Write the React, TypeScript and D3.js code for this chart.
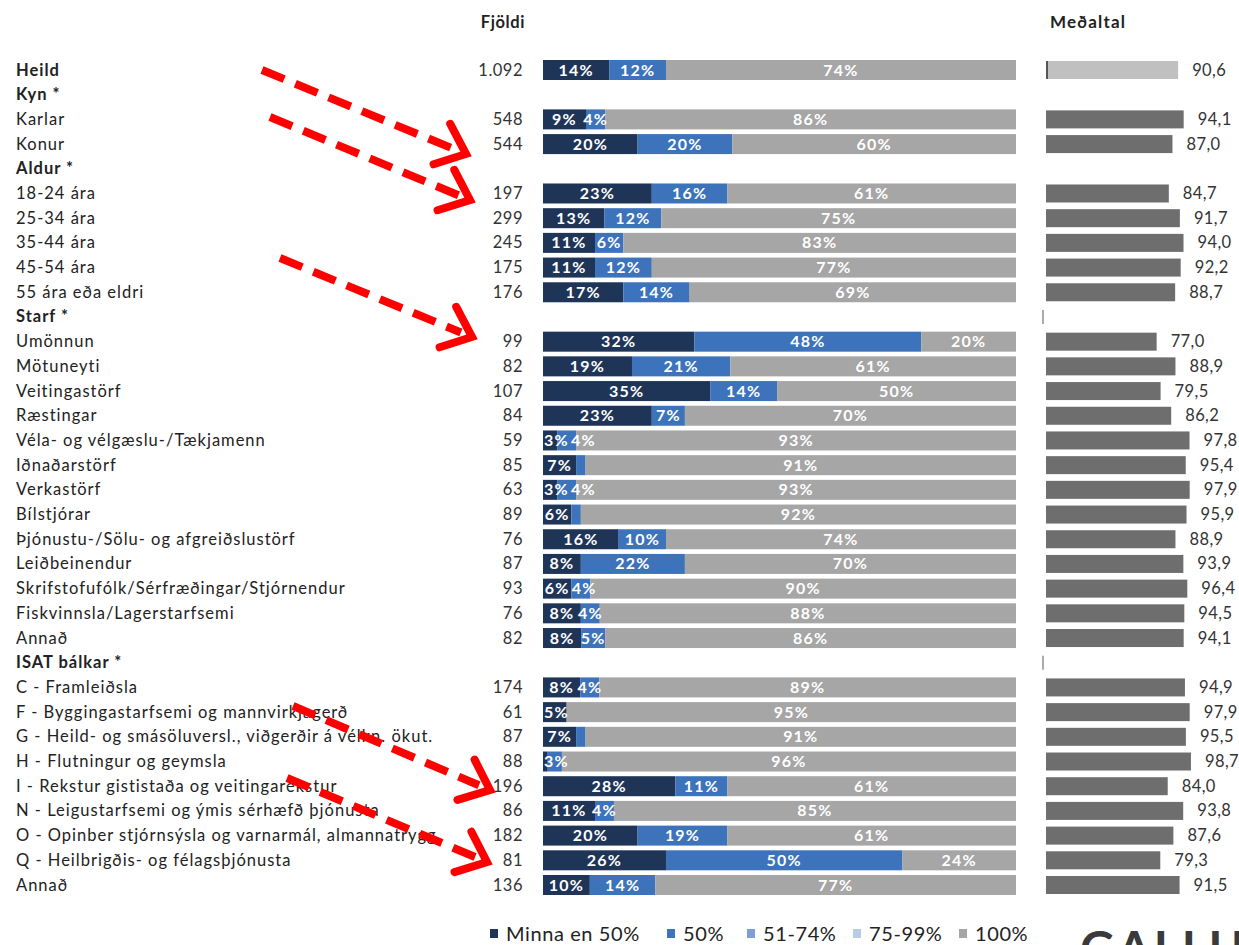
import React from "react";
import * as d3 from "d3";

const labels = [
  "Heild", "Kyn *", "Karlar", "Konur", "Aldur *", "18-24 ára", "25-34 ára", "35-44 ára", "45-54 ára", "55 ára eða eldri",
  "Starf *", "Umönnun", "Mötuneyti", "Veitingastörf", "Ræstingar", "Véla- og vélgæslu-/Tækjamenn", "Iðnaðarstörf",
  "Verkastörf", "Bílstjórar", "Þjónustu-/Sölu- og afgreiðslustörf", "Leiðbeinendur", "Skrifstofufólk/Sérfræðingar/Stjórnendur",
  "Fiskvinnsla/Lagerstarfsemi", "Annað", "ISAT bálkar *", "C - Framleiðsla", "F - Byggingastarfsemi og mannvirkjagerð",
  "G - Heild- og smásöluversl., viðgerðir á vélkn. ökut.", "H - Flutningur og geymsla", "I - Rekstur gististaða og veitingarekstur",
  "N - Leigustarfsemi og ýmis sérhæfð þjónusta", "O - Opinber stjórnsýsla og varnarmál, almannatrygg.",
  "Q - Heilbrigðis- og félagsþjónusta", "Annað",
];
const boldRows = ["Heild", "Kyn *", "Aldur *", "Starf *", "ISAT bálkar *"];
const fjoldi = ["1.092", "", "548", "544", "", "197", "299", "245", "175", "176",
  "", "99", "82", "107", "84", "59", "85", "63", "89", "76", "87", "93", "76", "82",
  "", "174", "61", "87", "88", "196", "86", "182", "81", "136"];
const minna50 = [14, null, 9, 20, null, 23, 13, 11, 11, 17, null, 32, 19, 35, 23, 3, 7, 3, 6, 16, 8, 6, 8, 8, null, 8, 5, 7, 1, 28, 11, 20, 26, 10];
const jafnt50 = [12, null, 4, 20, null, 16, 12, 6, 12, 14, null, 48, 21, 14, 7, 4, 2, 4, 2, 10, 22, 4, 4, 5, null, 4, 0, 2, 3, 11, 4, 19, 50, 14];
const hundrad = [74, null, 86, 60, null, 61, 75, 83, 77, 69, null, 20, 61, 50, 70, 93, 91, 93, 92, 74, 70, 90, 88, 86, null, 89, 95, 91, 96, 61, 85, 61, 24, 77];
const medaltal = [90.6, null, 94.1, 87.0, null, 84.7, 91.7, 94.0, 92.2, 88.7, null, 77.0, 88.9, 79.5, 86.2, 97.8, 95.4, 97.9, 95.9, 88.9, 93.9, 96.4, 94.5, 94.1, null, 94.9, 97.9, 95.5, 98.7, 84.0, 93.8, 87.6, 79.3, 91.5];
const legendItems = ["Minna en 50%", "50%", "51-74%", "75-99%", "100%"];
const legendColors = ["#1f3558", "#3c73ba", "#7b9fd6", "#b9cce6", "#a6a6a6"];
const segColors = ["#1f3558", "#3c73ba", "#a6a6a6"];
const axisTickRows = ["Starf *", "ISAT bálkar *"];

const arrows = [
  [262, 70, 466, 154],
  [270, 117, 470, 200],
  [280, 258, 472, 337],
  [293, 706, 490, 790],
  [287, 778, 487, 862],
];

const FONT = "Lato, 'Open Sans', sans-serif";

export default function App() {
  const y = d3.scalePoint<number>().domain(d3.range(labels.length)).range([70, 885]);
  const x = d3.scaleLinear().domain([0, 1]).range([543, 1016]);
  const xm = d3.scaleLinear().domain([7, 100]).range([1046, 1193]);
  const barH = 20;
  const fmt = (v: number) => v.toFixed(1).replace(".", ",");

  const rows = labels.map((lab, i) => {
    const vals = [minna50[i], jafnt50[i], hundrad[i]];
    const has = vals[0] !== null;
    const total = has ? d3.sum(vals as number[]) : 1;
    let acc = 0;
    const segs = has
      ? (vals as number[]).map((v, k) => {
          const s = { x0: acc / total, x1: (acc + v) / total, v, k };
          acc += v;
          return s;
        })
      : [];
    // label placement: centred, but pushed right to avoid overlapping
    let prevEnd = x(0) - 1;
    const labs = segs.filter((s) => s.v >= 3).map((s) => {
      const w = String(s.v).length * 10 + 15;
      let cx = (x(s.x0) + x(s.x1)) / 2;
      cx = Math.max(cx, prevEnd + w / 2 + 2);
      prevEnd = cx + w / 2;
      return { cx, v: s.v, k: s.k };
    });
    return { lab, i, segs, has, labs };
  });

  const arrowHead = (a: number[]) => {
    const [x0, y0, x1, y1] = a;
    const ang = Math.atan2(y1 - y0, x1 - x0) + Math.PI;
    const L = 34;
    const sp = (40 * Math.PI) / 180;
    const p1 = [x1 + L * Math.cos(ang + sp), y1 + L * Math.sin(ang + sp)];
    const p2 = [x1 + L * Math.cos(ang - sp), y1 + L * Math.sin(ang - sp)];
    return `M${p1[0]},${p1[1]}L${x1},${y1}L${p2[0]},${p2[1]}`;
  };

  return (
    <div style={{ position: "absolute", left: 0, top: 0 }}>
      <svg width={1239} height={945} style={{ display: "block", background: "#fff" }} fontFamily={FONT}>
        <text x={525} y={28} textAnchor="end" fontWeight={700} fontSize={16.5} letterSpacing={0.6} fill="#222">Fjöldi</text>
        <text x={1050} y={28} fontWeight={700} fontSize={17} letterSpacing={1.2} fill="#222">Meðaltal</text>

        {rows.map((r) => {
          const cy = y(r.i) as number;
          const bold = boldRows.includes(r.lab);
          return (
            <g key={r.i}>
              <text x={16} y={cy + 5.5} fontSize={16.5} letterSpacing={1} fontWeight={bold ? 700 : 400} fill="#222">{r.lab}</text>
              {fjoldi[r.i] && (
                <text x={523} y={cy + 5.5} fontSize={16.5} letterSpacing={0.5} textAnchor="end" fill="#333">{fjoldi[r.i]}</text>
              )}
              {r.segs.map((s) => (
                <rect key={s.k} x={x(s.x0)} y={cy - barH / 2} width={Math.max(0, x(s.x1) - x(s.x0))} height={barH} fill={segColors[s.k]} />
              ))}
              {r.labs.map((l) => (
                <text key={"t" + l.k} x={l.cx} y={cy + 5.5} textAnchor="middle" fontSize={16} letterSpacing={1.2} fontWeight={700} fill="#fff">
                  {l.v}%
                </text>
              ))}
              {medaltal[r.i] !== null && (
                <g>
                  <rect x={xm(7)} y={cy - barH / 2 + 1} width={xm(medaltal[r.i] as number) - xm(7)} height={barH - 2}
                    fill={r.i === 0 ? "#c0c0c0" : "#6e6e6e"} />
                  {r.i === 0 && <rect x={xm(7)} y={cy - barH / 2 + 1} width={2} height={barH - 2} fill="#555" />}
                  <text x={xm(medaltal[r.i] as number) + 14} y={cy + 5.5} fontSize={16.5} letterSpacing={0.4} fill="#333">{fmt(medaltal[r.i] as number)}</text>
                </g>
              )}
              {axisTickRows.includes(r.lab) && (
                <rect x={1042} y={cy - 7} width={2} height={14} fill="#aaa" />
              )}
            </g>
          );
        })}

        {arrows.map((a, k) => {
          const ang = Math.atan2(a[3] - a[1], a[2] - a[0]);
          return (
            <g key={"a" + k} stroke="#ff0000" fill="none" strokeWidth={8}>
              <line x1={a[0]} y1={a[1]} x2={a[2] - 12 * Math.cos(ang)} y2={a[3] - 12 * Math.sin(ang)} strokeDasharray="24 12" />
              <path d={arrowHead(a)} strokeLinecap="round" strokeLinejoin="miter" />
            </g>
          );
        })}

        {(() => {
          const starts = [490, 667, 747, 853, 959];
          return legendItems.map((t, k) => (
            <g key={"l" + k}>
              <rect x={starts[k]} y={929} width={8} height={9} fill={legendColors[k]} />
              <text x={starts[k] + 16} y={941} fontSize={20} letterSpacing={0.6} fill="#222">{t}</text>
            </g>
          ));
        })()}
        <text x={1080} y={966} fontSize={48} fontWeight={700} fill="#3a3a3a" letterSpacing={3}>GALLUP</text>
      </svg>
    </div>
  );
}
